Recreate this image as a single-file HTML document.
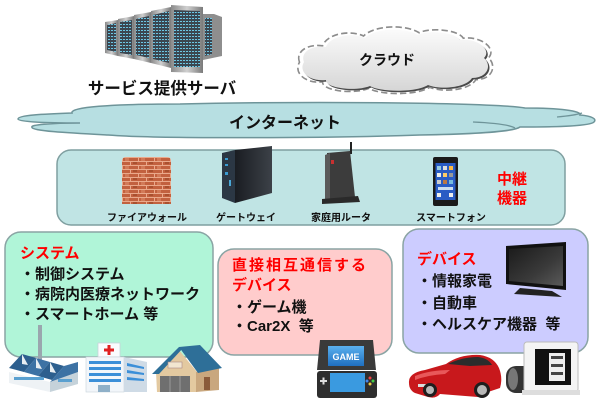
<!DOCTYPE html>
<html><head><meta charset="utf-8">
<style>
html,body{margin:0;padding:0;background:#fff;}
svg{display:block;}
text{font-family:"Liberation Sans","Noto Sans CJK JP",sans-serif;font-weight:bold;}
</style></head>
<body>
<svg width="600" height="406" viewBox="0 0 600 406" xmlns="http://www.w3.org/2000/svg">
<defs>
  <linearGradient id="cg" x1="0" y1="0" x2="0" y2="1">
    <stop offset="0" stop-color="#fbfbfb"/><stop offset="1" stop-color="#d6d6d6"/>
  </linearGradient>
  <linearGradient id="frame" x1="0" y1="0" x2="1" y2="0">
    <stop offset="0" stop-color="#8a8a8a"/><stop offset="0.5" stop-color="#d0d0d0"/><stop offset="1" stop-color="#7a7a7a"/>
  </linearGradient>
  <linearGradient id="tvg" x1="0" y1="0" x2="1" y2="1">
    <stop offset="0" stop-color="#1a1a1a"/><stop offset="0.6" stop-color="#3a3a3a"/><stop offset="1" stop-color="#5a5a5a"/>
  </linearGradient>
  <linearGradient id="gwg" x1="0" y1="0" x2="1" y2="0">
    <stop offset="0" stop-color="#1a1d22"/><stop offset="1" stop-color="#3c4148"/>
  </linearGradient>
  <linearGradient id="scr" x1="0" y1="0" x2="0" y2="1">
    <stop offset="0" stop-color="#5ab0ee"/><stop offset="1" stop-color="#1f6fc0"/>
  </linearGradient>
  <pattern id="srv" width="3" height="3" patternUnits="userSpaceOnUse">
    <rect width="3" height="3" fill="#3b4650"/><rect width="2" height="1" fill="#6cc6e4"/>
  </pattern>
  <pattern id="brick" width="16" height="8" patternUnits="userSpaceOnUse" x="122" y="157">
    <rect width="16" height="8" fill="#c2613f"/>
    <rect x="0" y="0" width="16" height="1" fill="#eaa98b"/>
    <rect x="0" y="4" width="16" height="1" fill="#eaa98b"/>
    <rect x="0" y="0" width="1" height="4" fill="#eaa98b"/>
    <rect x="8" y="4" width="1" height="4" fill="#eaa98b"/>
    <rect x="3" y="1" width="4" height="3" fill="#d27a58"/>
    <rect x="11" y="5" width="4" height="2" fill="#a9502f"/>
  </pattern>
</defs>

<!-- Server racks -->
<polygon points="203,14 214,14 222,17 222,56 203,60" fill="#8e8e8e"/>
<polygon points="205,18 212,18 212,54 205,56" fill="url(#srv)"/>
<polygon points="105,22 118,20 118,56 105,53" fill="url(#frame)"/>
<polygon points="107,25 116,23 116,52 107,50" fill="url(#srv)"/>
<polygon points="118,19 134,16 134,59 118,56" fill="url(#frame)"/>
<polygon points="120,22 132,20 132,55 120,53" fill="url(#srv)"/>
<polygon points="134,15 151,12 151,63 134,59" fill="url(#frame)"/>
<polygon points="136,19 149,16 149,58 136,55" fill="url(#srv)"/>
<polygon points="151,11 171,7 171,68 151,63" fill="url(#frame)"/>
<polygon points="153,15 169,11 169,63 153,59" fill="url(#srv)"/>
<polygon points="171,5 203,7 203,73 171,72" fill="url(#frame)"/>
<polygon points="174,10 200,11 200,67 174,67" fill="url(#srv)"/>
<text x="162" y="94" font-size="16.5" text-anchor="middle" fill="#111">サービス提供サーバ</text>

<!-- Cloud (クラウド) -->
<path d="M 304 62 C 300 52, 312 45, 326 47 C 330 36, 352 32, 365 38 C 375 28, 405 27, 418 35 C 428 30, 455 32, 460 40 C 478 38, 492 50, 484 58 C 492 65, 488 78, 472 78 C 466 88, 440 90, 428 85 C 415 93, 380 92, 370 86 C 355 92, 325 88, 326 80 C 310 82, 298 72, 304 62 Z" transform="translate(394,60) scale(1.05,1.09) translate(-394,-60)" fill="none" stroke="#8c8c8c" stroke-width="1.5" stroke-dasharray="6 3"/>
<path d="M 304 62 C 300 52, 312 45, 326 47 C 330 36, 352 32, 365 38 C 375 28, 405 27, 418 35 C 428 30, 455 32, 460 40 C 478 38, 492 50, 484 58 C 492 65, 488 78, 472 78 C 466 88, 440 90, 428 85 C 415 93, 380 92, 370 86 C 355 92, 325 88, 326 80 C 310 82, 298 72, 304 62 Z" transform="translate(1.5,1.5)" fill="#4a4a4a"/>
<path d="M 304 62 C 300 52, 312 45, 326 47 C 330 36, 352 32, 365 38 C 375 28, 405 27, 418 35 C 428 30, 455 32, 460 40 C 478 38, 492 50, 484 58 C 492 65, 488 78, 472 78 C 466 88, 440 90, 428 85 C 415 93, 380 92, 370 86 C 355 92, 325 88, 326 80 C 310 82, 298 72, 304 62 Z" fill="url(#cg)"/>
<text x="387" y="65" font-size="14" text-anchor="middle" fill="#111">クラウド</text>

<!-- Internet cloud -->
<path d="M 18 119 C 18 115, 45 114, 72 113 C 70 107, 110 104, 180 104 C 260 102, 380 102, 455 104 C 490 105, 515 106, 525 108 C 560 108, 582 111, 580 115 C 592 116, 597 119, 594 122 C 590 126, 560 127, 520 127 C 515 131, 480 134, 420 135 C 330 138, 160 139, 108 135 C 70 133, 30 131, 32 127 C 30 125, 50 123, 80 123 C 45 123, 18 122, 18 119 Z" fill="#b7dfe2" stroke="#6e9499" stroke-width="1.5"/>
<path d="M 473 122 C 495 123, 510 125, 515 128" fill="none" stroke="#6e9499" stroke-width="1.3"/>
<path d="M 557 117 C 568 116, 576 115, 582 113" fill="none" stroke="#6e9499" stroke-width="1.3"/>
<text x="285" y="128" font-size="16" text-anchor="middle" fill="#111">インターネット</text>

<!-- Relay box -->
<rect x="57" y="150" width="508" height="75" rx="14" fill="#c0e4e4" stroke="#7f9fa0" stroke-width="1.5"/>
<!-- firewall -->
<path d="M 122 204 L 122 161 Q 122 157 126 157 L 167 157 Q 171 157 171 161 L 171 204 Z" fill="url(#brick)"/>
<!-- gateway -->
<polygon points="222,153 235,150 235,203 222,198" fill="#2b3744"/>
<rect x="225" y="158" width="3" height="2" fill="#3a9ad0"/>
<rect x="225" y="164" width="3" height="2" fill="#3a9ad0"/>
<rect x="225" y="172" width="3" height="3" fill="#3a9ad0"/>
<rect x="229" y="180" width="2" height="6" fill="#4aa8d8"/>
<polygon points="235,150 272,146 272,193 235,203" fill="url(#gwg)"/>
<!-- router -->
<line x1="351" y1="142" x2="351" y2="154" stroke="#222" stroke-width="2"/>
<polygon points="327,153 350,151 355,197 327,199" fill="#3c3c3c"/>
<polygon points="325,155 330,153 330,199 325,200" fill="#5a5a5a"/>
<rect x="331" y="160" width="3" height="4" fill="#c83030"/>
<polygon points="322,199 358,196 360,202 322,204" fill="#2a2a2a"/>
<!-- smartphone -->
<rect x="433" y="157" width="25" height="49" rx="2" fill="#1a1a1a"/>
<rect x="435.5" y="163" width="20" height="37" fill="#2a5cc4"/>
<rect x="437" y="166" width="4" height="4" fill="#9cd"/><rect x="443" y="166" width="4" height="4" fill="#ddd"/><rect x="449" y="166" width="4" height="4" fill="#fb4"/>
<rect x="437" y="173" width="4" height="4" fill="#eee"/><rect x="443" y="173" width="4" height="4" fill="#fc6"/><rect x="449" y="173" width="4" height="4" fill="#999"/>
<rect x="437" y="180" width="4" height="4" fill="#ccc"/><rect x="443" y="180" width="4" height="4" fill="#b74"/><rect x="449" y="180" width="4" height="4" fill="#7bd"/>
<rect x="438" y="187" width="15" height="3" fill="#cde"/>
<rect x="437" y="193" width="4" height="4" fill="#eee"/><rect x="449" y="193" width="4" height="4" fill="#eee"/>
<text x="147" y="221" font-size="10" text-anchor="middle" fill="#111">ファイアウォール</text>
<text x="246" y="221" font-size="10" text-anchor="middle" fill="#111">ゲートウェイ</text>
<text x="341" y="221" font-size="10" text-anchor="middle" fill="#111">家庭用ルータ</text>
<text x="451" y="221" font-size="10" text-anchor="middle" fill="#111">スマートフォン</text>
<text x="512" y="184" font-size="15" text-anchor="middle" fill="#ff0000">中継</text>
<text x="512" y="203" font-size="15" text-anchor="middle" fill="#ff0000">機器</text>

<!-- System box -->
<rect x="5" y="232" width="208" height="125" rx="16" fill="#b0f5d8" stroke="#8aa4a4" stroke-width="1.5"/>
<text x="20" y="258" font-size="15" fill="#ff0000">システム</text>
<text x="20" y="279" font-size="15" fill="#111">・制御システム</text>
<text x="20" y="299" font-size="15" fill="#111">・病院内医療ネットワーク</text>
<text x="20" y="319" font-size="15" fill="#111">・スマートホーム 等</text>
<!-- factory -->
<rect x="38" y="325" width="4" height="40" fill="#9aa6ae"/>
<polygon points="9,372 50,382 50,392 9,383" fill="#eef2f5"/>
<polygon points="50,382 78,372 78,384 50,392" fill="#c5d2da"/>
<polygon points="9,368 22,354 36,358 24,372" fill="#2d5f8e"/>
<polygon points="24,372 36,358 50,362 38,376" fill="#3d72a4"/>
<polygon points="38,376 50,362 64,366 52,380" fill="#2d5f8e"/>
<polygon points="52,380 64,366 78,362 78,372 50,382" fill="#3d72a4"/>
<polygon points="22,354 22,364 28,365" fill="#e8eef2"/>
<polygon points="36,358 36,368 42,369" fill="#e8eef2"/>
<polygon points="50,362 50,372 56,373" fill="#e8eef2"/>
<rect x="14" y="377" width="30" height="3" fill="#5aa0d0"/>
<rect x="58" y="379" width="14" height="3" fill="#5aa0d0"/>
<!-- hospital -->
<rect x="98" y="343" width="22" height="14" fill="#fafcfe" stroke="#c8d2da" stroke-width="0.8"/>
<rect x="104" y="348.5" width="10" height="3" fill="#e02020"/>
<rect x="107.5" y="345" width="3" height="10" fill="#e02020"/>
<rect x="86" y="357" width="38" height="35" fill="#f2f6fa" stroke="#c8d2da" stroke-width="0.6"/>
<polygon points="124,357 147,362 147,392 124,392" fill="#cfdbe6"/>
<rect x="89" y="361" width="32" height="3" fill="#3b8fd8"/>
<rect x="89" y="367" width="32" height="3" fill="#3b8fd8"/>
<rect x="89" y="373" width="32" height="3" fill="#3b8fd8"/>
<rect x="89" y="379" width="32" height="3" fill="#3b8fd8"/>
<polygon points="127,363 144,367 144,369 127,366" fill="#3b8fd8"/>
<polygon points="127,370 144,373 144,375 127,373" fill="#3b8fd8"/>
<polygon points="127,377 144,379 144,381 127,380" fill="#3b8fd8"/>
<rect x="98" y="385" width="12" height="7" fill="#8fb0c8"/>
<!-- house -->
<polygon points="156,372 179,350 197,372 197,392 157,392" fill="#e3c9a0"/>
<polygon points="196,372 219,368 219,390 196,392" fill="#c9a77e"/>
<polygon points="152,374 179,347 184,347 159,374" fill="#2e6f98"/>
<polygon points="179,347 200,345 222,368 198,373" fill="#2e6f98"/>
<rect x="160" y="376" width="30" height="16" fill="#6f6f6f"/>
<line x1="170" y1="376" x2="170" y2="392" stroke="#999" stroke-width="1"/>
<line x1="180" y1="376" x2="180" y2="392" stroke="#999" stroke-width="1"/>
<rect x="168" y="362" width="14" height="6" fill="#f2e6d0" stroke="#a88" stroke-width="0.6"/>
<rect x="204" y="377" width="6" height="13" fill="#8a5a3a"/>

<!-- Middle box -->
<rect x="218" y="249" width="174" height="106" rx="16" fill="#ffcccc" stroke="#8aa4a4" stroke-width="1.5"/>
<text x="232" y="270" font-size="15" letter-spacing="2" fill="#ff0000">直接相互通信する</text>
<text x="232" y="290" font-size="15" fill="#ff0000">デバイス</text>
<text x="232" y="312" font-size="15" fill="#111">・ゲーム機</text>
<text x="232" y="331" font-size="15" fill="#111" xml:space="preserve">・Car2X  等</text>
<!-- game console -->
<polygon points="320,340 373,340 376,370 317,370" fill="#3a3a3a"/>
<rect x="328" y="346" width="36" height="20" fill="url(#scr)"/>
<text x="346" y="360" font-size="9" text-anchor="middle" fill="#fff">GAME</text>
<rect x="317" y="371" width="60" height="27" rx="3" fill="#2e2e2e"/>
<rect x="330" y="373" width="35" height="19" fill="#3a9ae0"/>
<rect x="320" y="380" width="7" height="2" fill="#ddd"/><rect x="322.5" y="377.5" width="2" height="7" fill="#ddd"/>
<circle cx="370" cy="378" r="1.5" fill="#e44"/><circle cx="373" cy="381" r="1.5" fill="#4c4"/><circle cx="367" cy="381" r="1.5" fill="#48e"/><circle cx="370" cy="384" r="1.5" fill="#ec4"/>

<!-- Right box -->
<rect x="403" y="229" width="185" height="124" rx="16" fill="#ccccff" stroke="#8aa4a4" stroke-width="1.5"/>
<text x="417" y="264" font-size="15" fill="#ff0000">デバイス</text>
<text x="417" y="286" font-size="15" fill="#111">・情報家電</text>
<text x="417" y="308" font-size="15" fill="#111">・自動車</text>
<text x="417" y="329" font-size="15" fill="#111" xml:space="preserve">・ヘルスケア機器  等</text>
<!-- TV -->
<polygon points="506,246 566,242 566,290 506,284" fill="#111"/>
<polygon points="509,249 563,246 563,286 509,281" fill="url(#tvg)"/>
<polygon points="520,288 552,291 562,297 514,294" fill="#222"/>
<!-- car -->
<path d="M 409 383 Q 408 373 425 370 L 446 364 Q 460 354 480 355 Q 494 357 499 368 Q 503 378 500 388 L 488 392 Q 486 398 478 397 L 440 394 Q 436 399 428 397 L 415 393 Q 409 390 409 383 Z" fill="#c8181c"/>
<path d="M 448 364 Q 462 357 478 357 Q 488 358 492 365 L 470 366 Z" fill="#2c2c2c"/>
<path d="M 415 376 Q 430 370 450 370 L 445 374 Q 428 375 415 380 Z" fill="#e8585a"/>
<rect x="418" y="384" width="8" height="3" fill="#ddd"/>
<circle cx="430" cy="390" r="7" fill="#1e1e1e"/><circle cx="430" cy="390" r="4" fill="#b8b8b8"/>
<circle cx="482" cy="390" r="8" fill="#1e1e1e"/><circle cx="482" cy="390" r="5" fill="#b8b8b8"/>
<!-- health monitor -->
<rect x="506" y="366" width="28" height="27" rx="10" fill="#333"/>
<ellipse cx="513" cy="379" rx="5" ry="11" fill="#777"/>
<rect x="524" y="342" width="54" height="50" rx="3" fill="#f4f4f4" stroke="#bbb" stroke-width="1"/>
<rect x="535" y="349" width="36" height="36" fill="#111"/>
<rect x="549" y="353" width="16" height="28" fill="#eee"/>
<rect x="551" y="356" width="12" height="3" fill="#444"/><rect x="551" y="364" width="12" height="3" fill="#444"/><rect x="551" y="372" width="12" height="3" fill="#444"/>
<rect x="522" y="390" width="58" height="5" fill="#ddd"/>
</svg>
</body></html>
